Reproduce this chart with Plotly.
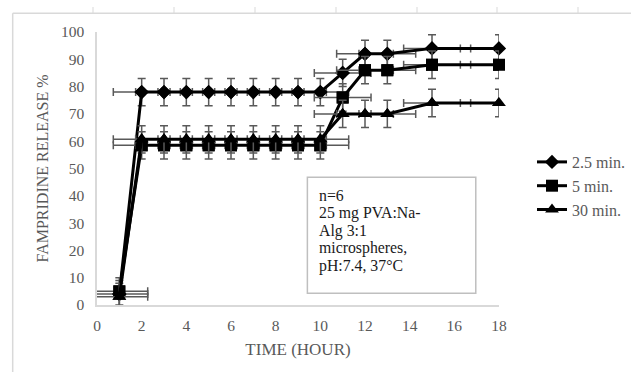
import plotly.graph_objects as go

time_h = [1, 2, 3, 4, 5, 6, 7, 8, 9, 10, 11, 12, 13, 15, 18]
rel_25 = [4, 78, 78, 78, 78, 78, 78, 78, 78, 78, 85, 92, 92, 94, 94]
rel_5 = [5, 58.5, 58.5, 58.5, 58.5, 58.5, 58.5, 58.5, 58.5, 58.5, 76, 86, 86, 88, 88]
rel_30 = [3, 60.7, 60.7, 60.7, 60.7, 60.7, 60.7, 60.7, 60.7, 60.7, 70, 70, 70, 74, 74]
series_names = ["2.5 min.", "5 min.", "30 min."]
y_err = 5
x_err = 1.27
box_lines = ["n=6", "25 mg PVA:Na-", "Alg 3:1", "microspheres,", "pH:7.4, 37°C"]

FONT = "Liberation Serif, Times New Roman, serif"
GRAY = "#595959"

fig = go.Figure()
symbols = ["diamond", "square", "triangle-up"]
sizes = [11, 12, 12]
for name, vals, sym, sz in zip(series_names, [rel_25, rel_5, rel_30], symbols, sizes):
    # line, markers and error bars, clipped to the plot area
    fig.add_trace(go.Scatter(
        x=time_h, y=vals, name=name, mode="lines+markers",
        legendgroup=name,
        line=dict(color="black", width=3),
        marker=dict(symbol=sym, size=sz, color="black"),
        error_y=dict(type="constant", value=y_err, color=GRAY, thickness=1.5, width=4),
        error_x=dict(type="constant", value=x_err, color=GRAY, thickness=1.5, width=4),
        cliponaxis=True,
    ))
    # unclipped markers on top
    fig.add_trace(go.Scatter(
        x=time_h, y=vals, name=name, mode="markers", legendgroup=name,
        marker=dict(symbol=sym, size=sz, color="black"),
        cliponaxis=False, showlegend=False, hoverinfo="skip",
    ))

# text box
fig.add_shape(type="rect", xref="x", yref="y", x0=9.42, x1=16.96, y0=4.3, y1=46.8,
              line=dict(color="#bfbfbf", width=1.5), fillcolor="white", layer="above")
line_y = [40.1, 33.6, 27.2, 20.8, 14.3]
for t, yy in zip(box_lines, line_y):
    fig.add_annotation(x=9.85, y=yy, xref="x", yref="y", text=t, showarrow=False,
                       xanchor="left", yanchor="middle",
                       font=dict(family=FONT, size=15.8, color="#1a1a1a"))

# chart-area decoration (border lines)
def px_x(p):
    return (p - 97) / 402
def px_y(p):
    return (305 - p) / 273
fig.add_shape(type="line", xref="paper", yref="paper", x0=px_x(12.7), x1=px_x(640),
              y0=px_y(13.3), y1=px_y(13.3), line=dict(color="#d9d9d9", width=1.5))
fig.add_shape(type="line", xref="paper", yref="paper", x0=px_x(12.7), x1=px_x(12.7),
              y0=px_y(13.3), y1=px_y(380), line=dict(color="#d9d9d9", width=1.5))
for tx in [93, 174, 255, 336, 417, 497, 578]:
    fig.add_shape(type="line", xref="paper", yref="paper", x0=px_x(tx), x1=px_x(tx),
                  y0=px_y(7), y1=px_y(13.3), line=dict(color="#d9d9d9", width=1))

fig.update_layout(
    width=631, height=372,
    margin=dict(l=97, r=132, t=32, b=67, autoexpand=False),
    paper_bgcolor="white", plot_bgcolor="white",
    font=dict(family=FONT, color=GRAY),
    showlegend=True,
    legend=dict(x=px_x(532), y=px_y(145), xanchor="left", yanchor="top",
                font=dict(family=FONT, size=16, color=GRAY),
                tracegroupgap=0, bgcolor="rgba(0,0,0,0)"),
    xaxis=dict(range=[0, 18], dtick=2, tick0=0, showgrid=False, zeroline=False,
               showline=True, linecolor="#d9d9d9", linewidth=1.5, ticks="",
               ticklabelstandoff=6,
               tickfont=dict(family=FONT, size=15.5, color=GRAY),
               title=dict(text="TIME (HOUR)", font=dict(family=FONT, size=17, color=GRAY), standoff=10)),
    yaxis=dict(range=[0, 100], dtick=10, tick0=0, showgrid=False, zeroline=False,
               showline=True, linecolor="#d9d9d9", linewidth=1.5, ticks="",
               ticklabelstandoff=8,
               tickfont=dict(family=FONT, size=15.5, color=GRAY),
               title=dict(text="FAMPRIDINE RELEASE %", font=dict(family=FONT, size=16, color=GRAY), standoff=8)),
)

fig.write_html("out.html")
